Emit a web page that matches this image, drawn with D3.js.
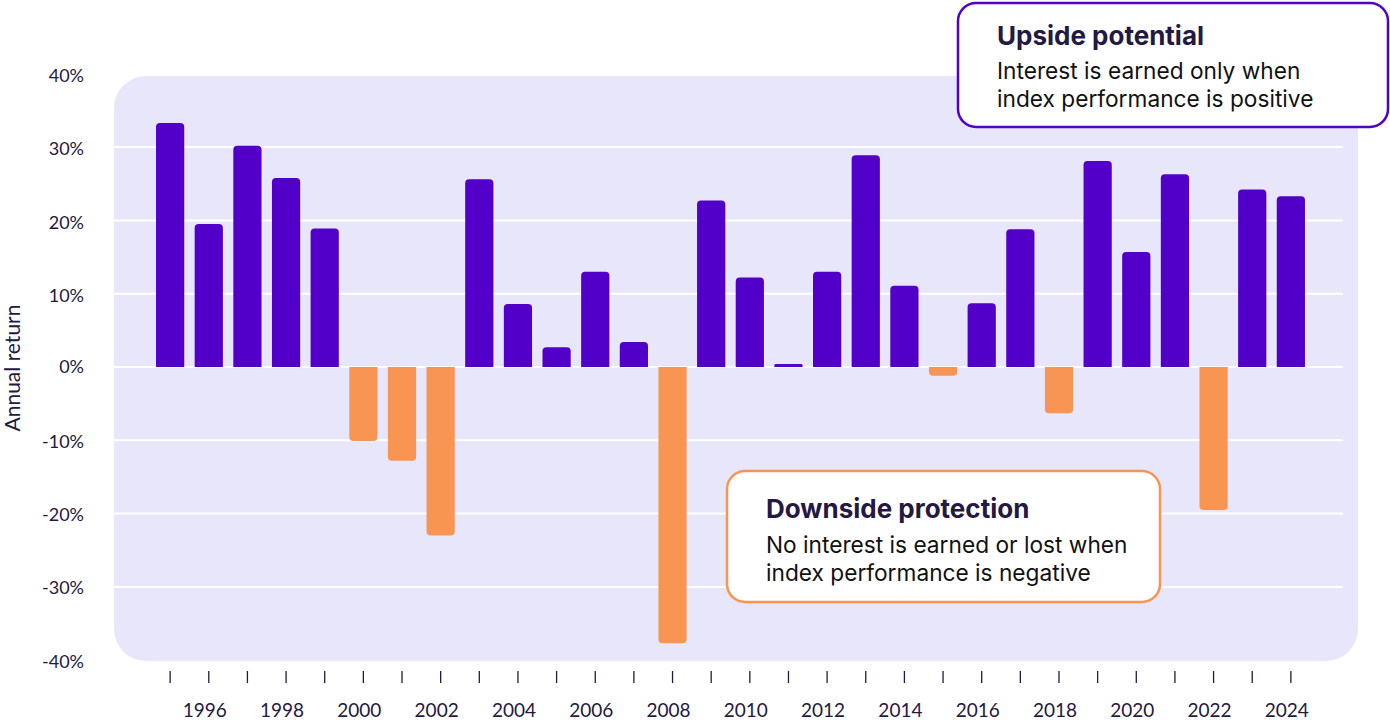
<!DOCTYPE html>
<html>
<head>
<meta charset="utf-8">
<script src="https://cdn.jsdelivr.net/npm/d3@7"></script>
<style>
  body { margin: 0; background: #fff; }
  svg { display: block; font-family: Lato, "Noto Sans", sans-serif; }
  .note { font-family: Inter, "Noto Sans", sans-serif; }
</style>
</head>
<body>
<div id="chart"></div>
<script>
// annual index returns (%)
const years = d3.range(1995, 2025);
const returns = [33.3, 19.5, 30.2, 25.8, 18.9, -10.1, -12.8, -23.0, 25.6, 8.6,
                 2.7, 13.0, 3.4, -37.7, 22.7, 12.2, 0.4, 13.0, 28.9, 11.1,
                 -1.2, 8.7, 18.8, -6.3, 28.1, 15.7, 26.3, -19.5, 24.2, 23.3];
const yTicks = [-40, -30, -20, -10, 0, 10, 20, 30, 40];
const xLabelYears = years.filter(y => y % 2 === 0);

const W = 1390, H = 723;
const purple = "#5200c9", orange = "#f89553", panel = "#e8e6fa", ink = "#231942";

const svg = d3.select("#chart").append("svg")
    .attr("width", W)
    .attr("height", H);

const x = d3.scaleBand()
    .domain(years)
    .range([151, 1310])
    .paddingInner(0.27)
    .paddingOuter(0.13);

const y = d3.scaleLinear()
    .domain([-40, 40])
    .range([660.2, 73.8]);

// panel
svg.append("rect")
    .attr("x", 114).attr("y", 76)
    .attr("width", 1244).attr("height", 585)
    .attr("rx", 32).attr("ry", 32)
    .attr("fill", panel);

// gridlines
svg.append("g")
    .selectAll("line")
    .data(yTicks.filter(t => t > -40 && t < 40))
    .join("line")
    .attr("x1", 114).attr("x2", 1343)
    .attr("y1", d => y(d)).attr("y2", d => y(d))
    .attr("stroke", "#fff")
    .attr("stroke-width", 2);

// bars, rounded only at the outer end
function barPath(d) {
    const x0 = x(d.year), w = x.bandwidth();
    const y0 = y(0), y1 = y(d.v);
    const h = Math.abs(y1 - y0);
    const r = Math.min(4, h / 2, w / 2);
    if (d.v >= 0) {
        return `M${x0},${y0}V${y1 + r}Q${x0},${y1} ${x0 + r},${y1}H${x0 + w - r}Q${x0 + w},${y1} ${x0 + w},${y1 + r}V${y0}Z`;
    }
    return `M${x0},${y0}V${y1 - r}Q${x0},${y1} ${x0 + r},${y1}H${x0 + w - r}Q${x0 + w},${y1} ${x0 + w},${y1 - r}V${y0}Z`;
}

svg.append("g")
    .selectAll("path")
    .data(years.map((yr, i) => ({year: yr, v: returns[i]})))
    .join("path")
    .attr("d", barPath)
    .attr("fill", d => d.v >= 0 ? purple : orange);

// y axis labels
svg.append("g")
    .selectAll("text")
    .data(yTicks)
    .join("text")
    .attr("x", 84)
    .attr("y", d => y(d) + (d > 0 ? 2 : d < 0 ? 1 : 0))
    .attr("dy", "0.35em")
    .attr("text-anchor", "end")
    .attr("font-size", 18)
    .attr("fill", ink)
    .text(d => d + "%");

svg.append("text")
    .attr("transform", "translate(20," + (y(0) + 1) + ") rotate(-90)")
    .attr("text-anchor", "middle")
    .attr("font-size", 21)
    .attr("fill", ink)
    .text("Annual return");

// x ticks
svg.append("g")
    .selectAll("line")
    .data(years)
    .join("line")
    .attr("x1", d => x(d) + x.bandwidth() / 2)
    .attr("x2", d => x(d) + x.bandwidth() / 2)
    .attr("y1", 671).attr("y2", 683)
    .attr("stroke", ink)
    .attr("stroke-width", 1.3);

svg.append("g")
    .selectAll("text")
    .data(xLabelYears)
    .join("text")
    .attr("x", d => x(d) + x.bandwidth() / 2 - 4)
    .attr("y", 717)
    .attr("text-anchor", "middle")
    .attr("font-size", 19)
    .attr("fill", ink)
    .text(d => d);

// callouts
function callout(bx, by, bw, bh, color, titleY, lineY, title, lines) {
    const g = svg.append("g").attr("class", "note");
    g.append("rect")
        .attr("x", bx).attr("y", by)
        .attr("width", bw).attr("height", bh)
        .attr("rx", 18).attr("ry", 18)
        .attr("fill", "#fff")
        .attr("stroke", color)
        .attr("stroke-width", 2.5);
    g.append("text")
        .attr("x", bx + 39).attr("y", by + titleY)
        .attr("font-size", 26)
        .attr("font-weight", 700)
        .attr("fill", ink)
        .text(title);
    g.selectAll("text.line")
        .data(lines)
        .join("text")
        .attr("class", "line")
        .attr("x", bx + 39)
        .attr("y", (d, i) => by + lineY + i * 28)
        .attr("font-size", 22.7)
        .attr("fill", "#111")
        .text(d => d);
}

callout(958, 3, 430, 124, purple, 42, 76, "Upside potential",
    ["Interest is earned only when", "index performance is positive"]);
callout(727, 471, 433, 131, orange, 47, 82, "Downside protection",
    ["No interest is earned or lost when", "index performance is negative"]);
</script>
</body>
</html>
